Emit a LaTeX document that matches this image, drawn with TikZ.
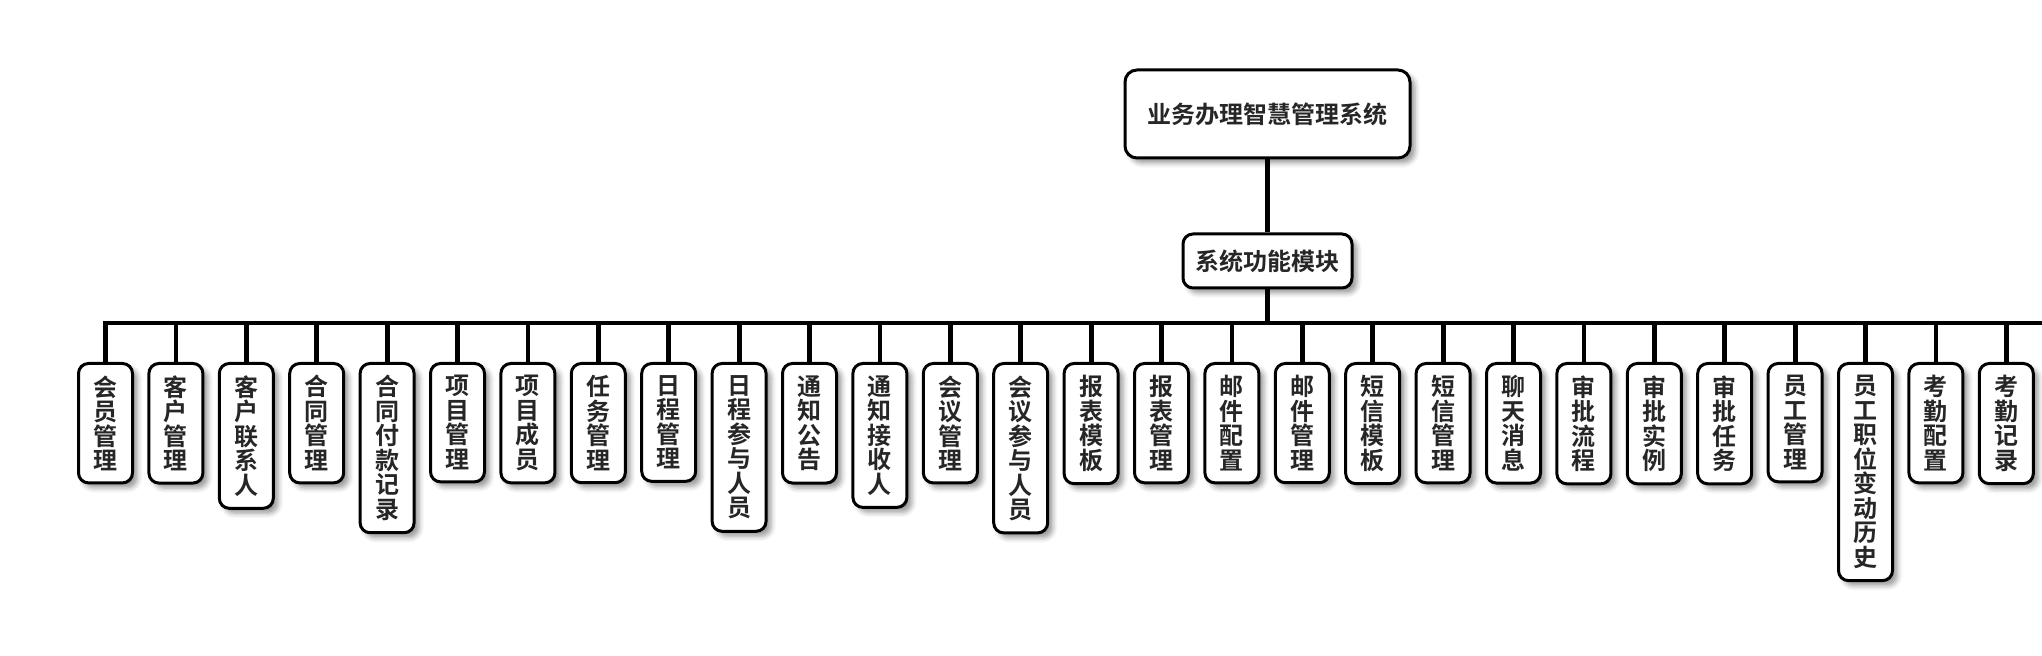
\documentclass[tikz,border=0pt]{standalone}
\usepackage{fontspec}
\newfontfamily\cjk{Noto Sans CJK SC}[BoldFont={Noto Sans CJK SC Bold}]
\usepackage{xcolor}
\usepackage{tikz}
\usetikzlibrary{positioning, shadows.blur}

\definecolor{textdark}{HTML}{262626}

% stack the characters of a label one above the other
\def\shugobble#1{}
\def\shustep#1#2{#1\ifx\relax#2\expandafter\shugobble\else\\\expandafter\shustep\fi#2}
\newcommand{\shu}[1]{\expandafter\shustep#1\relax}

\begin{document}
\begin{tikzpicture}[
    x=0.5pt, y=0.5pt,
    cjkbold/.style={font=\cjk\bfseries\fontsize{12pt}{12.25pt}\selectfont, text=textdark},
    boxshadow/.style={blur shadow={shadow xshift=2.5pt, shadow yshift=-2.5pt, shadow blur radius=2.5pt}},
    root/.style={rectangle, rounded corners=6pt, draw=black, line width=1.5pt, fill=white, minimum width=142.5pt, minimum height=44pt, cjkbold, boxshadow},
    group/.style={rectangle, rounded corners=5pt, draw=black, line width=1.5pt, fill=white, minimum width=84.5pt, minimum height=27pt, cjkbold, boxshadow},
    leaf/.style={rectangle, rounded corners=5pt, draw=black, line width=1.5pt, fill=white, minimum width=27pt, inner xsep=0pt, inner ysep=6pt, align=center, cjkbold, boxshadow},
    link/.style={draw=black, line width=2.4pt},
  ]

  \useasboundingbox (0,0) rectangle (2042,-656);

  % Root and module level
  \node[root] (sys) at (1267.5,-114) {业务办理智慧管理系统};
  \node[group, below=36.5pt of sys] (mods) {系统功能模块};

  % Function modules
  \foreach \txt [count=\i] in {会员管理, 客户管理, 客户联系人, 合同管理, 合同付款记录, 项目管理, 项目成员, 任务管理, 日程管理, 日程参与人员, 通知公告, 通知接收人, 会议管理, 会议参与人员, 报表模板, 报表管理, 邮件配置, 邮件管理, 短信模板, 短信管理, 聊天消息, 审批流程, 审批实例, 审批任务, 员工管理, 员工职位变动历史, 考勤配置, 考勤记录}
    \node[leaf, anchor=north] (m\i) at ({105.5+70.4*(\i-1)},-362) {\shu{\txt}};

  % Connectors
  \coordinate (busend) at (2042,-323);
  \draw[link] (sys.south) -- (mods.north);
  \draw[link] (mods.south) -- (mods.south |- busend);
  \draw[link] (m1.north) |- (busend);
  \foreach \i in {2,...,28}
    \draw[link] (m\i.north) -- (m\i.north |- busend);

\end{tikzpicture}
\end{document}
